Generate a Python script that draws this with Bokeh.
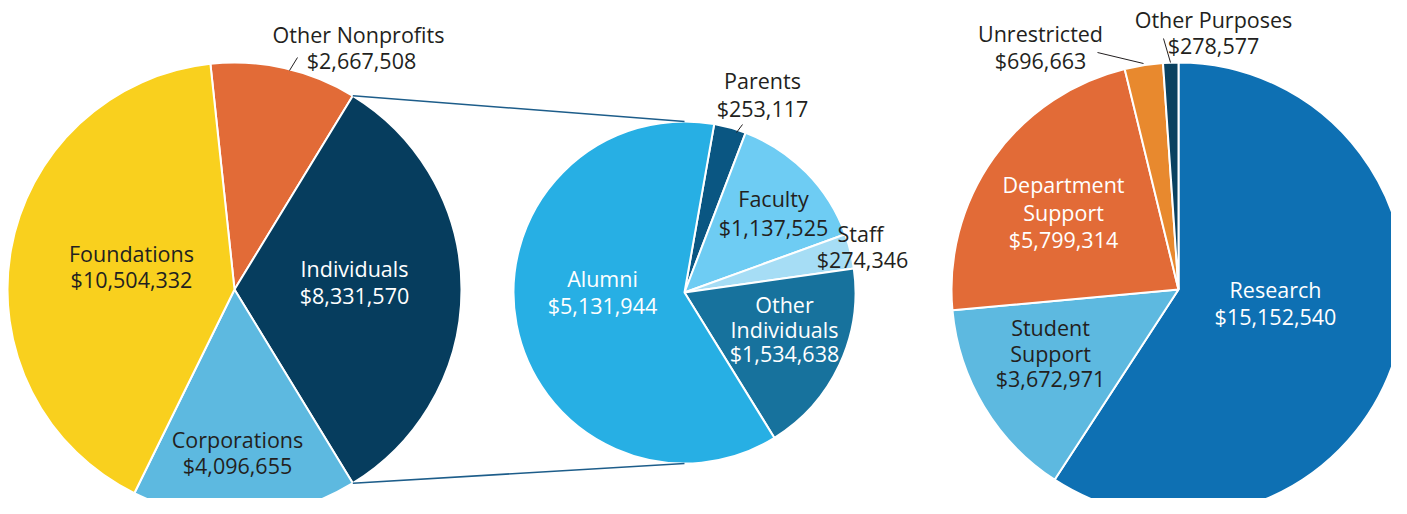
import numpy as np
from bokeh.plotting import figure
from bokeh.models import Range1d
from bokeh.embed import file_html
from bokeh.resources import INLINE
from bokeh.core.properties import value

# ---------------- data ----------------
source_names = ["Other Nonprofits", "Individuals", "Corporations", "Foundations"]
source_values = [2667508, 8331570, 4096655, 10504332]

indiv_names = ["Parents", "Faculty", "Staff", "Other Individuals", "Alumni"]
indiv_values = [253117, 1137525, 274346, 1534638, 5131944]

purpose_names = ["Research", "Student Support", "Department Support", "Unrestricted", "Other Purposes"]
purpose_values = [15152540, 3672971, 5799314, 696663, 278577]

# ---------------- styles ----------------
source_colors = ["#E26B37", "#063D5E", "#5DB9E0", "#F9D01E"]
indiv_colors = ["#0A5682", "#6ECCF3", "#A6DDF5", "#17729D", "#27AFE4"]
purpose_colors = ["#0E70B3", "#5DB9E0", "#E26B37", "#E8892E", "#0A4160"]
DARK = "#231F20"
FONT = "Open Sans"
FS = "21.5px"
H = 514  # screen height used for layout conversion

W_PLOT, H_PLOT = 1391, 498
p = figure(width=W_PLOT, height=H_PLOT, output_backend="svg", toolbar_location=None,
           x_range=Range1d(0, W_PLOT), y_range=Range1d(H - H_PLOT, H),
           min_border=0)
p.axis.visible = False
p.grid.visible = False
p.outline_line_color = None
p.background_fill_color = "white"


def sy(y):
    return H - y


def pie(cx, cy, r, vals, colors, start_deg):
    vals = np.asarray(vals, dtype=float)
    ang = vals / vals.sum() * 360.0
    ends = start_deg - np.cumsum(ang)
    starts = ends + ang
    p.wedge(x=cx, y=sy(cy), radius=r,
            start_angle=np.radians(ends), end_angle=np.radians(starts),
            fill_color=colors, line_color="white", line_width=2)
    return starts, ends


# left pie: Individuals centered on the right-hand side
sv = np.asarray(source_values, dtype=float)
sang = sv / sv.sum() * 360.0
left_start = sang[1] / 2 + sang[0]
L_CX, L_CY, L_R = 234, 289, 227
ls, le = pie(L_CX, L_CY, L_R, source_values, source_colors, left_start)

M_CX, M_CY, M_R = 684, 292, 171
pie(M_CX, M_CY, M_R, indiv_values, indiv_colors, 80.0)

R_CX, R_CY, R_R = 1178, 289, 227
pie(R_CX, R_CY, R_R, purpose_values, purpose_colors, 90.0)

# connector lines from the Individuals slice to the middle pie
a1, a2 = np.radians(ls[1]), np.radians(le[1])
p.line([L_CX + L_R * np.cos(a1), M_CX], [sy(L_CY) + L_R * np.sin(a1), sy(M_CY) + M_R],
       line_color="#1d5d8a", line_width=1.5)
p.line([L_CX + L_R * np.cos(a2), M_CX], [sy(L_CY) + L_R * np.sin(a2), sy(M_CY) - M_R],
       line_color="#1d5d8a", line_width=1.5)

# leader lines
leaders = [((289, 70), (297, 57)), ((736, 132), (742, 124)),
           ((1097, 52), (1143, 63)), ((1163, 38), (1170, 62))]
for (x0, y0), (x1, y1) in leaders:
    p.line([x0, x1], [sy(y0), sy(y1)], line_color=DARK, line_width=1)


def money(v):
    return "${:,}".format(v)


# labels: (lines, x, first line screen y, spacing, color)
labels = [
    (["Other Nonprofits"], 358, 34, 26, DARK),
    ([money(source_values[0])], 361, 60, 26, DARK),
    (["Individuals", money(source_values[1])], 354, 268, 27, "white"),
    (["Corporations", money(source_values[2])], 237, 439, 26, DARK),
    (["Foundations", money(source_values[3])], 131, 253, 26, DARK),
    (["Parents", money(indiv_values[0])], 762, 80, 28, DARK),
    (["Faculty", money(indiv_values[1])], 773, 198, 29, DARK),
    (["Staff"], 860, 233, 26, DARK),
    ([money(indiv_values[2])], 862, 259, 26, DARK),
    (["Other", "Individuals", money(indiv_values[3])], 784, 304, 24.5, "white"),
    (["Alumni", money(indiv_values[4])], 602, 278, 27, "white"),
    (["Research", money(purpose_values[0])], 1275, 289, 27, "white"),
    (["Student", "Support", money(purpose_values[1])], 1050, 327, 25.5, DARK),
    (["Department", "Support", money(purpose_values[2])], 1063, 184, 27.5, "white"),
    (["Unrestricted", money(purpose_values[3])], 1040, 33, 27, DARK),
    (["Other Purposes", money(purpose_values[4])], 1213, 19, 26, DARK),
]
for lines, x, y0, dy, col in labels:
    xs = [x] * len(lines)
    ys = [sy(y0 + i * dy) for i in range(len(lines))]
    p.text(x=xs, y=ys, text=lines, text_align="center", text_baseline="middle",
           text_color=col, text_font=value(FONT), text_font_size=FS)

open("out.html", "w").write(file_html(p, INLINE))
